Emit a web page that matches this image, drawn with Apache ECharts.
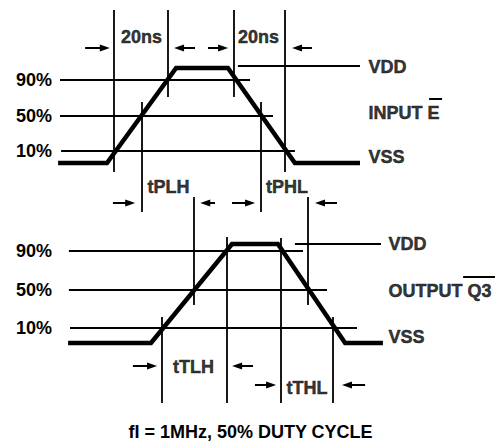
<!DOCTYPE html>
<html>
<head>
<meta charset="utf-8">
<script src="https://cdn.jsdelivr.net/npm/echarts@6/dist/echarts.min.js"></script>
<style>html,body{margin:0;padding:0;background:#fff;}#c{width:501px;height:446px;}</style>
</head>
<body>
<div id="c"></div>
<script>
// ---- data (time in ns, level in % of supply) ----
const levelTicks = [10, 50, 90];

// INPUT E waveform
const inputTime  = [-0.7, 17.4, 43.0, 62.2, 87.0, 111.1];
const inputLevel = [-3.5, -3.5, 103.5, 103.5, -3.5, -3.5];
// OUTPUT Q3 waveform
const outputTime  = [3.0, 33.7, 63.7, 80.7, 105.6, 119.6];
const outputLevel = [-5.6, -5.6, 97.3, 97.3, -5.6, -5.6];

// horizontal reference lines: [level, tStart, tEnd]
const inputLevelLines  = [[90, 0, 70.4], [50, 0, 78.9], [10, 0.4, 87.0], [105.8, 65.9, 111.1]];
const outputLevelLines = [[90, 3.3, 90.0], [50, 3.3, 98.9], [10, 3.7, 110.0], [97.3, 87.0, 118.9]];

// vertical timing markers: [time, levelFrom, levelTo]
const inputMarkers  = [[20.0, 168.9, -13.7], [40.0, 168.9, 70.8], [64.4, 168.9, 70.8], [83.3, 168.9, -13.7],
                       [30.4, 65.2, -58.7], [74.4, 65.2, -58.7]];
const outputMarkers = [[49.6, 146.1, 33.9], [91.9, 146.1, 33.9], [37.8, 21.4, -67.9], [61.9, 104.5, -67.9],
                       [81.9, 103.5, -67.9], [101.1, 21.4, -67.9]];

// dimension arrows: [level, tFrom, tHead]
const inputArrows  = [[126.1, 9.3, 16.6], [126.1, 50.0, 44.1], [126.1, 54.8, 60.4], [126.1, 93.3, 87.8],
                      [-48.6, 19.6, 26.0], [-48.6, 57.4, 53.8], [-48.6, 63.7, 70.4], [-48.6, 102.6, 96.3]];
const outputArrows = [[-29.5, 27.0, 34.1], [-29.5, 71.5, 65.6], [-49.2, 72.2, 78.2], [-49.2, 113.0, 106.3]];

// overbars (logic negation): [level, tStart, tEnd]
const inputOverbars  = [[68.6, 136.7, 141.5]];
const outputOverbars = [[63.0, 149.3, 161.1]];

// centered labels: [text, time, level]
const inputCenterTexts  = [['20ns', 30.2, 138.5], ['20ns', 73.5, 138.5], ['tPLH', 40.2, -30.6], ['tPHL', 84.1, -30.6]];
const outputCenterTexts = [['tTLH', 49.4, -30.5], ['tTHL', 91.5, -52.3]];
// left-aligned labels: [text, time, level]
const inputSideTexts  = [['VDD', 114.1, 104.6], ['INPUT E', 114.1, 52.8], ['VSS', 114.1, 3.2]];
const outputSideTexts = [['VDD', 121.5, 97.3], ['OUTPUT Q3', 121.5, 48.4], ['VSS', 121.5, 0.6]];

const footer = 'fI = 1MHz, 50% DUTY CYCLE';

// ---- chart ----
const FONT = '"Liberation Sans", Arial, Helvetica, sans-serif';
const INK = '#000';
const txt = { color: INK, fontWeight: 700, fontSize: 18, fontFamily: FONT };

function zip(a, b) { return a.map((v, i) => [v, b[i]]); }
function hSegs(arr) { return arr.map(r => ({ coords: [[r[1], r[0]], [r[2], r[0]]] })); }
function vSegs(arr) { return arr.map(r => ({ coords: [[r[0], r[1]], [r[0], r[2]]] })); }

function textSeries(idx, rows, position) {
  return {
    type: 'scatter', xAxisIndex: idx, yAxisIndex: idx, symbolSize: 1, clip: false, silent: true,
    itemStyle: { color: 'rgba(0,0,0,0)' },
    data: rows.map(r => ({ name: r[0], value: [r[1], r[2]] })),
    label: Object.assign({
      show: true, position: position, distance: 0, formatter: '{b}',
      textBorderColor: INK, textBorderWidth: 0.5
    }, txt),
    emphasis: { disabled: true }
  };
}

function panel(idx, time, level, hLines, vLines, arrows, bars, cTexts, sTexts) {
  return [
    {
      type: 'line', xAxisIndex: idx, yAxisIndex: idx, data: zip(time, level),
      showSymbol: false, clip: false, silent: true,
      lineStyle: { color: INK, width: 4.5, cap: 'butt', join: 'miter' }
    },
    {
      type: 'lines', coordinateSystem: 'cartesian2d', xAxisIndex: idx, yAxisIndex: idx,
      clip: false, silent: true,
      data: hSegs(hLines).concat(vSegs(vLines)),
      lineStyle: { color: INK, width: 1.8, opacity: 1, curveness: 0 }
    },
    {
      type: 'lines', coordinateSystem: 'cartesian2d', xAxisIndex: idx, yAxisIndex: idx,
      clip: false, silent: true,
      data: hSegs(bars),
      lineStyle: { color: INK, width: 2, opacity: 1 }
    },
    {
      type: 'lines', coordinateSystem: 'cartesian2d', xAxisIndex: idx, yAxisIndex: idx,
      clip: false, silent: true,
      symbol: ['none', 'triangle'], symbolSize: [[7, 10], [7, 10]],
      data: arrows.map(r => ({ coords: [[r[1], r[0]], [r[2], r[0]]] })),
      lineStyle: { color: INK, width: 2, opacity: 1 },
      itemStyle: { color: INK }
    },
    textSeries(idx, cTexts, 'inside'),
    textSeries(idx, sTexts, 'right')
  ];
}

const yAxisBase = {
  type: 'value', min: -20, max: 120,
  axisLine: { show: false }, axisTick: { show: false }, splitLine: { show: false },
  axisLabel: Object.assign({ customValues: levelTicks, formatter: '{value}%', margin: 8, padding: [4, 0, 0, 0] }, txt)
};

const chart = echarts.init(document.getElementById('c'), null, { renderer: 'svg' });
chart.setOption({
  animation: false,
  backgroundColor: '#fff',
  title: {
    text: footer, left: 'center', top: 423, padding: 0,
    textStyle: txt
  },
  grid: [
    { left: 60, width: 432, top: 53.375, height: 124.25 },
    { left: 60, width: 432, top: 222.125, height: 134.75 }
  ],
  xAxis: [
    { type: 'value', gridIndex: 0, min: 0, max: 160, show: false },
    { type: 'value', gridIndex: 1, min: 0, max: 160, show: false }
  ],
  yAxis: [
    Object.assign({ gridIndex: 0 }, yAxisBase),
    Object.assign({ gridIndex: 1 }, yAxisBase)
  ],
  series: [].concat(
    panel(0, inputTime, inputLevel, inputLevelLines, inputMarkers, inputArrows, inputOverbars, inputCenterTexts, inputSideTexts),
    panel(1, outputTime, outputLevel, outputLevelLines, outputMarkers, outputArrows, outputOverbars, outputCenterTexts, outputSideTexts)
  )
});
</script>
</body>
</html>
